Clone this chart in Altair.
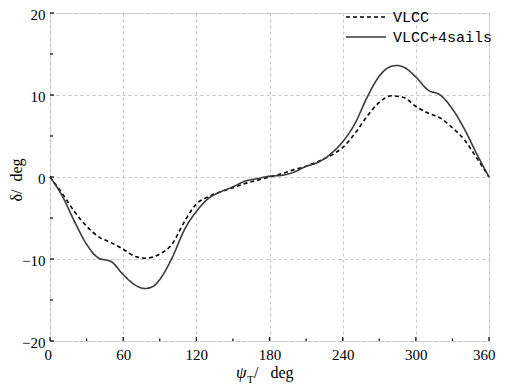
import altair as alt
import pandas as pd

# ---- data ----
vlcc_psi = [0, 10, 20, 30, 40, 50, 60, 70, 78, 90, 100, 110, 120, 130, 140, 150, 160, 170,
            180, 190, 200, 210, 220, 230, 240, 250, 260, 270, 280, 290, 300, 310, 320, 330,
            340, 350, 360]
vlcc_delta = [0, -2.0, -4.2, -6.0, -7.3, -8.0, -8.8, -9.7, -9.9, -9.4, -8.2, -5.5, -3.3, -2.4,
              -1.8, -1.3, -0.8, -0.4, 0, 0.4, 0.9, 1.3, 1.9, 2.6, 3.6, 5.3, 7.4, 9.1, 9.9, 9.7,
              8.6, 7.8, 7.2, 6.0, 4.5, 2.3, 0]

sails_psi = [0, 10, 20, 30, 40, 50, 60, 70, 78, 85, 90, 100, 110, 120, 130, 140, 150, 160, 170,
             180, 190, 200, 210, 220, 230, 240, 250, 260, 270, 280, 285, 290, 300, 310, 320,
             330, 340, 350, 360]
sails_delta = [0, -2.3, -5.4, -8.2, -9.9, -10.3, -11.9, -13.2, -13.6, -13.3, -12.5, -9.9, -6.5,
               -4.2, -2.6, -1.8, -1.2, -0.5, -0.2, 0.1, 0.2, 0.6, 1.3, 1.8, 2.8, 4.3, 6.5, 9.7,
               12.3, 13.5, 13.6, 13.4, 12.2, 10.6, 10.0, 8.3, 5.8, 2.8, 0]

series_names = ["VLCC", "VLCC+4sails"]
x_major = [0, 60, 120, 180, 240, 300, 360]
x_minor = [30, 90, 150, 210, 270, 330]
y_major = [-20, -10, 0, 10, 20]
y_minor = [-15, -5, 5, 15]

W, H = 439, 328
SERIF = "Liberation Serif"
COLORS = ["#000000", "#3a3a3a"]
DASHES = [[4, 3], [1, 0]]

df = pd.concat([
    pd.DataFrame({"psi": vlcc_psi, "delta": vlcc_delta, "s": series_names[0]}),
    pd.DataFrame({"psi": sails_psi, "delta": sails_delta, "s": series_names[1]}),
])

xs = alt.Scale(domain=[0, 360], nice=False, zero=False)
ys = alt.Scale(domain=[-20, 20], nice=False, zero=False)

lines = alt.Chart(df).mark_line(interpolate="monotone", strokeWidth=1.6).encode(
    x=alt.X("psi:Q", scale=xs,
            axis=alt.Axis(values=x_major, title=None, ticks=False, domain=False,
                          labelFont=SERIF, labelFontSize=15, labelColor="black",
                          labelPadding=6, labelFlush=1, labelFlushOffset=6,
                          grid=True, gridDash=[3, 3], gridColor="#b5b5b5", gridWidth=0.8)),
    y=alt.Y("delta:Q", scale=ys,
            axis=alt.Axis(values=y_major, title=None, ticks=False, domain=False,
                          labelFont=SERIF, labelFontSize=15, labelColor="black",
                          labelPadding=5, labelOffset=1, labelFlush=False, grid=True,
                          gridDash=[3, 3], gridColor="#b5b5b5", gridWidth=0.8)),
    strokeDash=alt.StrokeDash("s:N", scale=alt.Scale(domain=series_names, range=DASHES),
                              legend=None),
    color=alt.Color("s:N", scale=alt.Scale(domain=series_names, range=COLORS), legend=None),
)

# legend drawn by hand (line sample + label)
legend_layers = []
for i, name in enumerate(series_names):
    yy = 4 + 20 * i
    legend_layers.append(
        alt.Chart(pd.DataFrame({"n": [name]})).mark_rule(
            color=COLORS[i], strokeWidth=1.6, strokeDash=DASHES[i]).encode(
            x=alt.value(296), x2=alt.value(336), y=alt.value(yy)))
    legend_layers.append(
        alt.Chart(pd.DataFrame({"n": [name]})).mark_text(
            font="Liberation Mono", fontSize=15, align="left", baseline="middle",
            color="black").encode(text="n:N", x=alt.value(343), y=alt.value(yy)))

xmaj = alt.Chart(pd.DataFrame({"v": x_major})).mark_rule(color="black", strokeWidth=1.2).encode(
    x=alt.X("v:Q", scale=xs), y=alt.value(H), y2=alt.value(H - 4))
xmin = alt.Chart(pd.DataFrame({"v": x_minor})).mark_rule(color="black", strokeWidth=1.2).encode(
    x=alt.X("v:Q", scale=xs), y=alt.value(H), y2=alt.value(H - 2.5))
ymaj = alt.Chart(pd.DataFrame({"v": y_major})).mark_rule(color="black", strokeWidth=1.2).encode(
    y=alt.Y("v:Q", scale=ys), x=alt.value(0), x2=alt.value(4))
ymin = alt.Chart(pd.DataFrame({"v": y_minor})).mark_rule(color="black", strokeWidth=1.2).encode(
    y=alt.Y("v:Q", scale=ys), x=alt.value(0), x2=alt.value(3))

def label(txt, x, y, size=16, style="normal"):
    return alt.Chart(pd.DataFrame({"t": [txt]})).mark_text(
        font=SERIF, fontSize=size, fontStyle=style, align="left", baseline="alphabetic",
        color="black").encode(text="t:N", x=alt.value(x), y=alt.value(y))

xt1 = label("ψ", 186, 365, 17, "italic")
xt2 = label("T", 197, 370, 11)
xt3 = label("/\u00a0\u00a0\u00a0deg", 204, 365, 16)
yt = alt.Chart(pd.DataFrame({"t": ["δ/\u00a0\u00a0deg"]})).mark_text(
    font=SERIF, fontSize=16, align="center", baseline="middle", angle=270, color="black"
).encode(text="t:N", x=alt.value(-33), y=alt.value(167))

chart = alt.layer(lines, xmaj, xmin, ymaj, ymin, *legend_layers, xt1, xt2, xt3, yt).properties(
    width=W, height=H,
    autosize=alt.AutoSizeParams(type="none"),
    padding={"left": 42, "top": 5, "right": 8, "bottom": 44},
).configure_view(stroke="black", strokeWidth=1.5).configure(background="white")

chart.save("out.html", embed_options={"renderer": "svg", "actions": False})
